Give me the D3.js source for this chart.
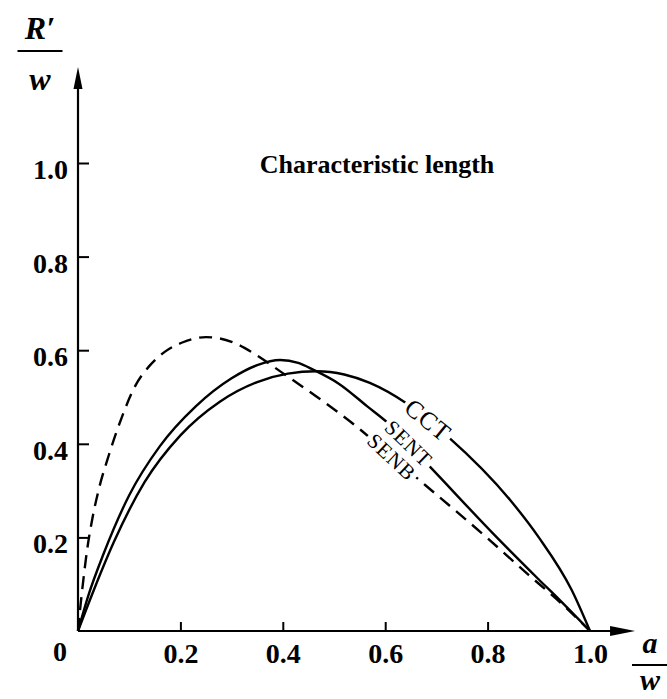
<!DOCTYPE html>
<html>
<head>
<meta charset="utf-8">
<script src="https://cdn.jsdelivr.net/npm/d3@7"></script>
<style>
    body { margin: 0; background: #fff; }
    svg, svg text { font-family: "Liberation Serif", "Times New Roman", Times, serif !important; }
</style>
</head>
<body>
<div id="chart"></div>
<script>
// values, [a/w, R'/w]
var cctPoints = [
    [0, 0], [0.03, 0.085], [0.07, 0.19], [0.13, 0.318], [0.2, 0.418], [0.277, 0.49],
    [0.35, 0.532], [0.41, 0.55], [0.466, 0.555], [0.52, 0.548], [0.57, 0.53], [0.642, 0.486],
    [0.723, 0.415], [0.844, 0.28], [0.9, 0.2], [0.964, 0.088], [1.0, 0]
];
var sentPoints = [
    [0, 0], [0.02, 0.075], [0.05, 0.165], [0.1, 0.29], [0.16, 0.395], [0.23, 0.48],
    [0.3, 0.54], [0.35, 0.568], [0.395, 0.579], [0.43, 0.573], [0.46, 0.558], [0.51, 0.528],
    [0.565, 0.48], [0.606, 0.444], [0.684, 0.355], [0.818, 0.2], [0.9, 0.11], [0.941, 0.066], [1.0, 0]
];
var senbPoints = [
    [0, 0], [0.004, 0.045], [0.01, 0.105], [0.018, 0.175], [0.028, 0.24], [0.04, 0.3],
    [0.06, 0.375], [0.085, 0.455], [0.11, 0.52], [0.14, 0.567], [0.17, 0.597], [0.205, 0.617],
    [0.25, 0.628], [0.3, 0.618], [0.342, 0.594], [0.4, 0.551], [0.467, 0.5], [0.545, 0.436],
    [0.61, 0.375], [0.678, 0.312], [0.798, 0.2], [0.88, 0.12], [0.94, 0.063], [1.0, 0]
];
var xTicks = [0.2, 0.4, 0.6, 0.8, 1.0];
var yTicks = [0.2, 0.4, 0.6, 0.8, 1.0];
var curveNames = ['CCT', 'SENT', 'SENB'];
var titleText = 'Characteristic length';

window.onload = start;

function start() {
    var width = 667;
    var height = 699;

    var svg = d3.select('#chart')
        .append('svg')
        .attr('width', width)
        .attr('height', height);

    var x = d3.scaleLinear().domain([0, 1]).range([78, 590]);
    var y = d3.scaleLinear().domain([0, 1]).range([631, 163]);

    var line = d3.line()
        .x(function(d) { return x(d[0]); })
        .y(function(d) { return y(d[1]); })
        .curve(d3.curveMonotoneX);

    // curves
    var curves = [
        { name: 'CCT', pts: cctPoints, dash: null },
        { name: 'SENT', pts: sentPoints, dash: null },
        { name: 'SENB', pts: senbPoints, dash: '13,8' }
    ];
    svg.append('g')
        .selectAll('path')
        .data(curves)
        .enter()
        .append('path')
        .attr('d', function(d) { return line(d.pts); })
        .attr('fill', 'none')
        .attr('stroke', '#000')
        .attr('stroke-width', 2.4)
        .attr('stroke-dasharray', function(d) { return d.dash; });

    // y axis
    var yAxis = d3.axisLeft(y)
        .tickValues(yTicks)
        .tickFormat(d3.format('.1f'))
        .tickSizeInner(-11)
        .tickSizeOuter(0)
        .tickPadding(10);
    var yg = svg.append('g')
        .attr('transform', 'translate(' + x(0) + ',0)')
        .call(yAxis);
    yg.select('.domain').remove();
    yg.selectAll('.tick line').attr('stroke-width', 2);
    yg.selectAll('.tick text')
        .attr('font-size', 28)
        .attr('font-weight', 'bold')
        .attr('dy', '0.55em');

    // x axis
    var xAxis = d3.axisBottom(x)
        .tickValues(xTicks)
        .tickFormat(d3.format('.1f'))
        .tickSizeInner(-9)
        .tickSizeOuter(0)
        .tickPadding(12);
    var xg = svg.append('g')
        .attr('transform', 'translate(0,' + y(0) + ')')
        .call(xAxis);
    xg.select('.domain').remove();
    xg.selectAll('.tick line')
        .attr('stroke-width', 2)
        .attr('display', function(d) { return d == 1 ? 'none' : null; });
    xg.selectAll('.tick text')
        .attr('font-size', 28)
        .attr('font-weight', 'bold');

    // axis lines with arrows
    var yTop = 1.205, xEnd = 1.088;
    svg.append('line')
        .attr('x1', x(0)).attr('y1', y(0))
        .attr('x2', x(0)).attr('y2', y(yTop) + 10)
        .attr('stroke', '#000').attr('stroke-width', 2.2);
    svg.append('path')
        .attr('d', 'M' + x(0) + ',' + y(yTop) + 'L' + (x(0) - 4.5) + ',' + (y(yTop) + 22) +
            'L' + (x(0) + 4.5) + ',' + (y(yTop) + 22) + 'Z')
        .attr('fill', '#000');
    svg.append('line')
        .attr('x1', x(0)).attr('y1', y(0))
        .attr('x2', x(xEnd) - 10).attr('y2', y(0))
        .attr('stroke', '#000').attr('stroke-width', 2.2);
    svg.append('path')
        .attr('d', 'M' + x(xEnd) + ',' + y(0) + 'L' + (x(xEnd) - 25) + ',' + (y(0) - 5) +
            'L' + (x(xEnd) - 25) + ',' + (y(0) + 5) + 'Z')
        .attr('fill', '#000');

    // origin label
    svg.append('text')
        .attr('x', x(0) - 18)
        .attr('y', y(0) + 10)
        .attr('dy', '0.71em')
        .attr('text-anchor', 'middle')
        .attr('font-size', 28)
        .attr('font-weight', 'bold')
        .text('0');

    // axis titles as fractions
    function fraction(cx, top, num, den, barW, gap, size) {
        svg.append('text')
            .attr('x', cx).attr('y', top)
            .attr('text-anchor', 'middle')
            .attr('font-size', size)
            .attr('font-weight', 'bold')
            .attr('font-style', 'italic')
            .text(num);
        svg.append('line')
            .attr('x1', cx - barW / 2).attr('x2', cx + barW / 2)
            .attr('y1', top + 12).attr('y2', top + 12)
            .attr('stroke', '#000').attr('stroke-width', 2.2);
        svg.append('text')
            .attr('x', cx).attr('y', top + gap)
            .attr('text-anchor', 'middle')
            .attr('font-size', size)
            .attr('font-weight', 'bold')
            .attr('font-style', 'italic')
            .text(den);
    }
    fraction(40, 39, 'R\u2032', 'w', 45, 51, 32);
    fraction(650, 653, 'a', 'w', 36, 37, 30);

    // title
    svg.append('text')
        .attr('x', 377)
        .attr('y', 173)
        .attr('text-anchor', 'middle')
        .attr('font-size', 26)
        .attr('font-weight', 'bold')
        .text(titleText);

    // labels sitting on the curves
    var labelSpots = [
        { at: [0.684, 0.451], angle: 39, size: 25 },
        { at: [0.646, 0.401], angle: 44, size: 21 },
        { at: [0.613, 0.372], angle: 43, size: 21 }
    ];
    curveNames.forEach(function(name, i) {
        var s = labelSpots[i];
        var g = svg.append('g')
            .attr('transform', 'translate(' + x(s.at[0]) + ',' + y(s.at[1]) + ') rotate(' + s.angle + ')');
        var rect = g.append('rect').attr('fill', '#fff');
        var t = g.append('text')
            .attr('text-anchor', 'middle')
            .attr('dy', '0.35em')
            .attr('font-size', s.size)
            .attr('letter-spacing', 1)
            .text(name);
        var len = t.node().getComputedTextLength();
        rect.attr('x', -len / 2 - 3)
            .attr('y', -s.size * 0.4)
            .attr('width', len + 6)
            .attr('height', s.size * 0.8);
    });
}
</script>
</body>
</html>
